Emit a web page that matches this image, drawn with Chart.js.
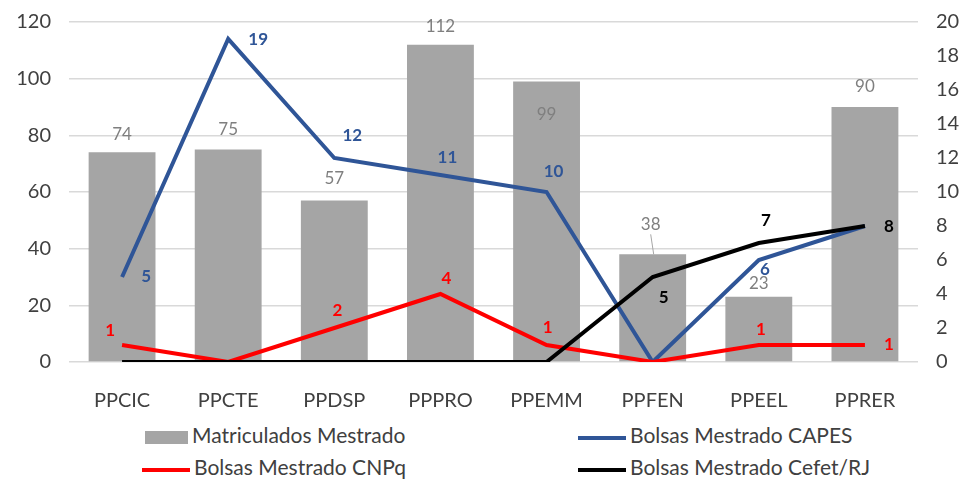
<!DOCTYPE html>
<html>
<head>
<meta charset="utf-8">
<script src="https://cdn.jsdelivr.net/npm/chart.js@4"></script>
<style>
  body { margin: 0; background: #fff; }
  #wrap { position: relative; width: 967px; height: 480px; }
  #box { position: absolute; left: 0; top: 0; width: 967px; height: 412px; }
  .leg { position: absolute; font-family: Lato, sans-serif; font-size: 21px; color: #404040; line-height: 22px; white-space: nowrap; }
  .leg i { display: inline-block; vertical-align: middle; margin-right: 4px; }
</style>
</head>
<body>
<div id="wrap">
  <div id="box"><canvas id="grafica"></canvas></div>
  <div class="leg" style="left:145px;top:424px"><i style="width:43px;height:13px;background:#a5a5a5"></i>Matriculados Mestrado</div>
  <div class="leg" style="left:578px;top:424px"><i style="width:48px;height:4px;background:#2f5597"></i>Bolsas Mestrado CAPES</div>
  <div class="leg" style="left:142px;top:456px"><i style="width:48px;height:4px;background:#ff0000"></i>Bolsas Mestrado CNPq</div>
  <div class="leg" style="left:578px;top:456px"><i style="width:48px;height:4px;background:#000"></i>Bolsas Mestrado Cefet/RJ</div>
</div>
<script>
//Datos
const programas = ['PPCIC', 'PPCTE', 'PPDSP', 'PPPRO', 'PPEMM', 'PPFEN', 'PPEEL', 'PPRER'];
const matriculados = [74, 75, 57, 112, 99, 38, 23, 90];
const bolsasCapes = [5, 19, 12, 11, 10, 0, 6, 8];
const bolsasCnpq = [1, 0, 2, 4, 1, 0, 1, 1];
const bolsasCefet = [0, 0, 0, 0, 0, 5, 7, 8];

//Donde va cada etiqueta (dx, dy respecto al punto); null = sin etiqueta
const posMatriculados = [[0,-18],[0,-20],[0,-22],[0,-18],[0,33],[-2,-30],[0,-13],[0,-20]];
const posCapes = [[24,0],[30,1],[18,-22],[7,-17],[7,-20],null,[6,10],null];
const posCnpq = [[-12,-14],null,[3,-17],[6,-15],[1,-17],null,[2,-15],[24,0]];
const posCefet = [null,null,null,null,null,[11,21],[7,-22],[24,1]];

const etiquetas = {
  id: 'etiquetas',
  afterDatasetsDraw(chart) {
    const ctx = chart.ctx;
    const grupos = [
      { ds: 0, pos: posMatriculados, color: '#7f7f7f', bold: false },
      { ds: 1, pos: posCapes, color: '#2f5597', bold: true },
      { ds: 2, pos: posCnpq, color: '#ff0000', bold: true },
      { ds: 3, pos: posCefet, color: '#000000', bold: true }
    ];
    ctx.save();
    ctx.textAlign = 'center';
    ctx.textBaseline = 'middle';
    grupos.forEach(g => {
      const meta = chart.getDatasetMeta(g.ds);
      const valores = chart.data.datasets[g.ds].data;
      ctx.font = (g.bold ? 'bold ' : '') + '17px Lato, sans-serif';
      ctx.fillStyle = g.color;
      meta.data.forEach((el, i) => {
        const p = g.pos[i];
        if (!p) return;
        ctx.fillText(String(valores[i]), el.x + p[0], el.y + p[1]);
        //linea guia del 38
        if (g.ds === 0 && i === 5) {
          ctx.strokeStyle = '#a6a6a6';
          ctx.lineWidth = 1;
          ctx.beginPath();
          ctx.moveTo(el.x + p[0], el.y + p[1] + 10);
          ctx.lineTo(el.x + 1, el.y);
          ctx.stroke();
        }
      });
    });
    ctx.restore();
  }
};

new Chart(document.getElementById('grafica'), {
  type: 'bar',
  data: {
    labels: programas,
    datasets: [
      { type: 'bar', label: 'Matriculados Mestrado', data: matriculados, backgroundColor: '#a5a5a5',
        yAxisID: 'y', order: 4, categoryPercentage: 1, barPercentage: 0.63 },
      { type: 'line', label: 'Bolsas Mestrado CAPES', data: bolsasCapes, borderColor: '#2f5597',
        borderWidth: 4, pointRadius: 0, yAxisID: 'y1', order: 3 },
      { type: 'line', label: 'Bolsas Mestrado CNPq', data: bolsasCnpq, borderColor: '#ff0000',
        borderWidth: 4, pointRadius: 0, yAxisID: 'y1', order: 2 },
      { type: 'line', label: 'Bolsas Mestrado Cefet/RJ', data: bolsasCefet, borderColor: '#000000',
        borderWidth: 4, pointRadius: 0, yAxisID: 'y1', order: 1 }
    ]
  },
  options: {
    responsive: true,
    maintainAspectRatio: false,
    animation: false,
    layout: { padding: { top: 22, left: 0, right: 0, bottom: 0 } },
    plugins: { legend: { display: false }, tooltip: { enabled: false } },
    scales: {
      x: {
        grid: { display: false },
        border: { display: false },
        ticks: { color: '#404040', font: { family: 'Lato', size: 20 }, padding: 19 },
        afterFit: s => { s.height = 50; s.paddingLeft = 0; s.paddingRight = 0; }
      },
      y: {
        position: 'left',
        min: 0, max: 120,
        ticks: { stepSize: 20, color: '#404040', font: { family: 'Lato', size: 20 }, padding: 18 },
        grid: { color: '#d9d9d9', lineWidth: 1.5, drawTicks: false },
        border: { display: false },
        afterFit: s => { s.width = 69; s.paddingTop = 0; s.paddingBottom = 0; }
      },
      y1: {
        position: 'right',
        min: 0, max: 20,
        ticks: { stepSize: 2, color: '#404040', font: { family: 'Lato', size: 20 }, padding: 18 },
        grid: { display: false, drawTicks: false },
        border: { display: false },
        afterFit: s => { s.width = 49; s.paddingTop = 0; s.paddingBottom = 0; }
      }
    }
  },
  plugins: [etiquetas]
});
</script>
</body>
</html>
